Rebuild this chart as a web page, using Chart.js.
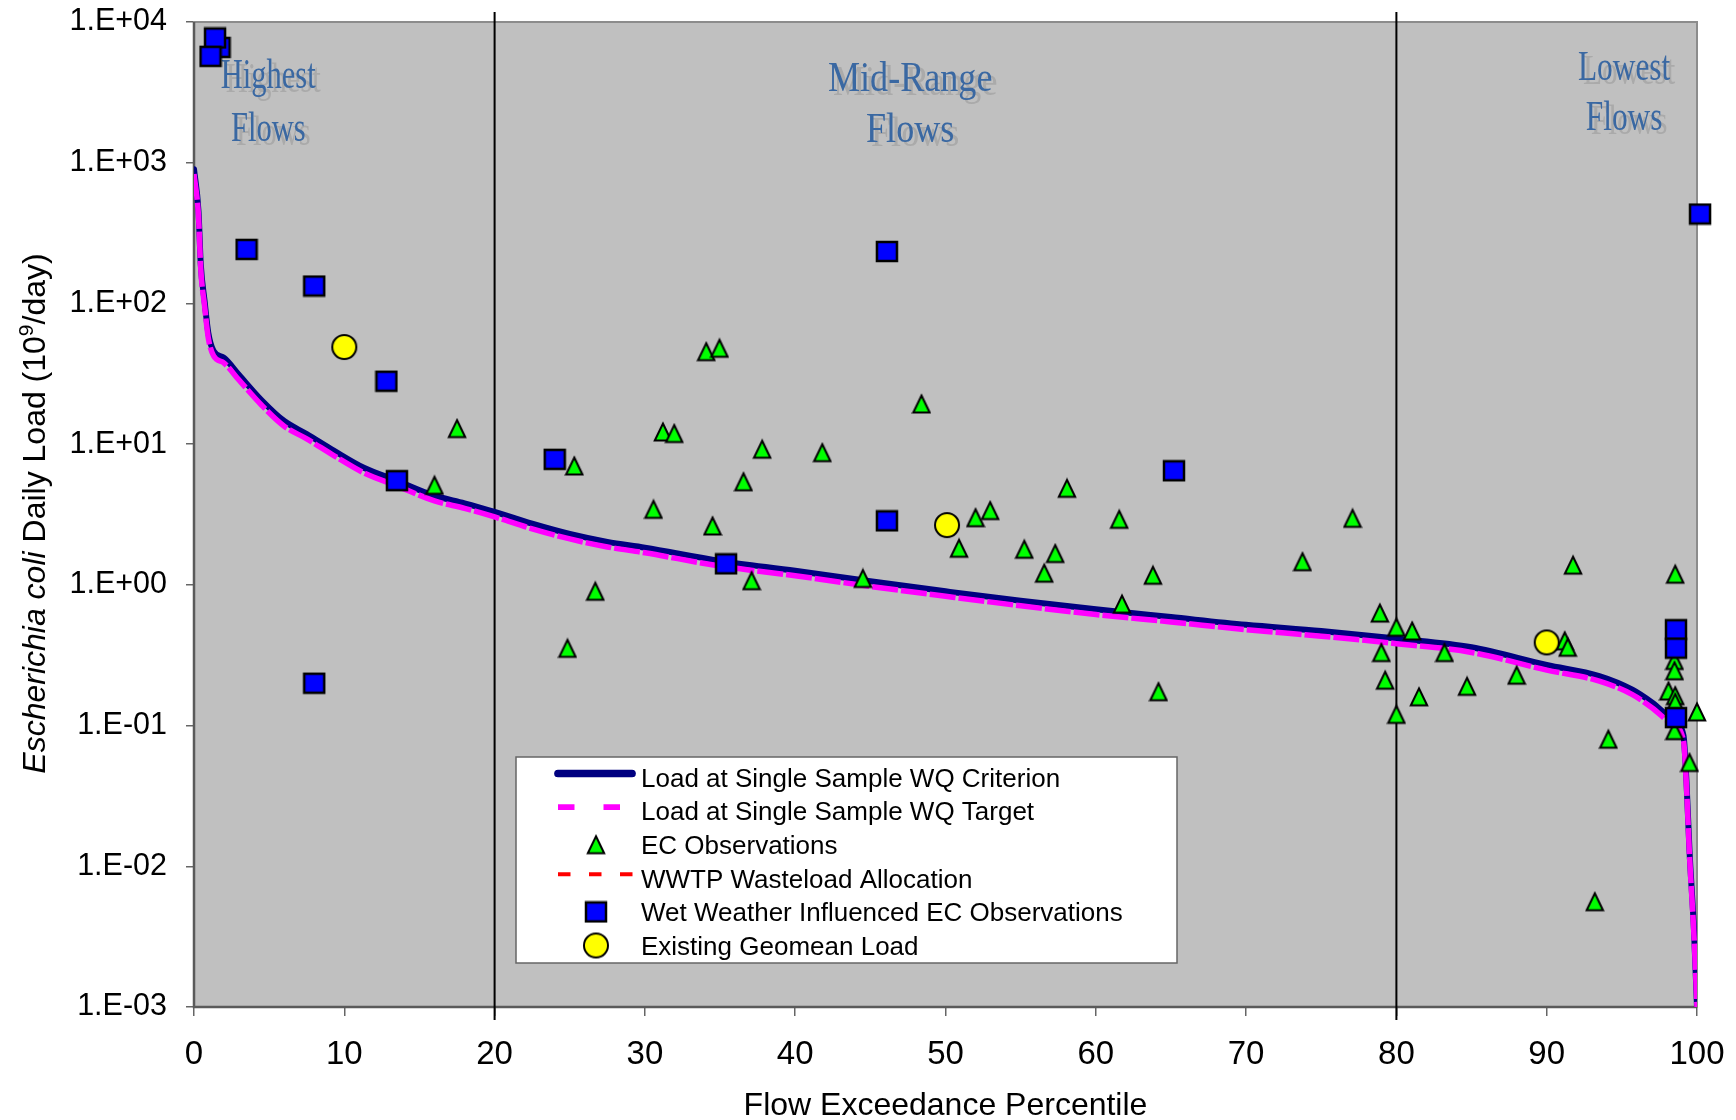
<!DOCTYPE html>
<html>
<head>
<meta charset="utf-8">
<title>Escherichia coli load duration curve</title>
<script src="https://cdn.jsdelivr.net/npm/chart.js@4.4.1/dist/chart.umd.min.js"></script>
<style>
    html, body { margin: 0; padding: 0; background: #fff; }
    #marco { width: 1736px; height: 1120px; position: relative; }
</style>
</head>
<body>
<div id="marco"><canvas id="graficoCarga"></canvas></div>
<script>
// Load duration curves (flow exceedance percentile -> load, 10^9/day)
const flowPct = [0, 0.3, 0.45, 0.7, 0.95, 1.3, 2, 3, 4.5, 6, 7.5, 9.3, 11.3, 13.5, 16, 18, 20, 22.5, 25, 27.5,
    30, 35, 40, 45, 50, 55, 60, 65, 70, 75, 80, 85, 90, 93.5, 95.7, 97, 98.4, 99.1, 99.3, 99.5, 99.8, 100];
const criterionLoad = [900, 450, 190, 105, 62, 46, 41, 31, 20.5, 14.6, 11.8, 9.0, 6.8, 5.5, 4.3, 3.8, 3.3, 2.72, 2.3, 2.02,
    1.84, 1.48, 1.26, 1.06, 0.90, 0.77, 0.67, 0.59, 0.52, 0.47, 0.415, 0.36, 0.27, 0.225, 0.18, 0.146, 0.11, 0.085, 0.04, 0.013, 0.0035, 0.001];
const targetLoad = [830, 415, 175, 97, 57, 42.5, 37.7, 28.5, 18.9, 13.4, 10.9, 8.3, 6.25, 5.05, 3.95, 3.5, 3.04, 2.5, 2.12, 1.86,
    1.69, 1.36, 1.16, 0.975, 0.83, 0.71, 0.615, 0.545, 0.48, 0.432, 0.382, 0.331, 0.248, 0.207, 0.166, 0.134, 0.101, 0.078, 0.037, 0.012, 0.0032, 0.001];
const wasteloadAllocation = [];

// Observations: [percentile, load]
const ecObservations = [
    [16.0, 5.1], [17.5, 12.9], [24.85, 0.354], [25.3, 7.0], [26.7, 0.90], [30.57, 3.44], [31.2, 12.2], [31.95, 11.9],
    [34.08, 45.4], [34.96, 48], [34.5, 2.62], [36.56, 5.4], [37.1, 1.07], [37.8, 9.2], [41.8, 8.7], [44.5, 1.11],
    [48.4, 19.3], [50.9, 1.82], [52.0, 3.0], [52.97, 3.37], [55.24, 1.79], [56.57, 1.21], [57.3, 1.67], [58.08, 4.85],
    [61.56, 2.92], [61.74, 0.73], [63.8, 1.17], [64.17, 0.174], [73.75, 1.46], [77.08, 2.97], [78.9, 0.63], [79.0, 0.33],
    [79.25, 0.21], [80.0, 0.50], [80.0, 0.12], [81.05, 0.47], [81.5, 0.16], [83.2, 0.33], [84.7, 0.19], [88.0, 0.228],
    [91.2, 0.40], [91.4, 0.36], [91.75, 1.38], [93.2, 0.0056], [94.1, 0.08], [98.55, 1.19], [98.5, 0.29], [98.5, 0.245],
    [98.1, 0.176], [98.55, 0.163], [98.55, 0.146], [98.5, 0.092], [99.5, 0.0546], [100.0, 0.125]
];
const wetWeatherObservations = [
    [1.7, 6600], [1.4, 7700], [1.1, 5700], [3.5, 242], [8.0, 133], [12.8, 28], [13.5, 5.5], [8.0, 0.20],
    [24.0, 7.8], [35.4, 1.41], [46.1, 234], [46.1, 2.85], [65.2, 6.47], [98.6, 0.48], [98.6, 0.355], [98.6, 0.114], [100.2, 432]
];
const geomeanLoad = [[10.0, 49], [50.1, 2.66], [90.0, 0.39]];

// Flow zones
const zoneBounds = [20, 80];
const zoneLabels = [['Highest', 'Flows'], ['Mid-Range', 'Flows'], ['Lowest', 'Flows']];

// Ticks
const xTickValues = [0, 10, 20, 30, 40, 50, 60, 70, 80, 90, 100];
const yTickValues = [0.001, 0.01, 0.1, 1, 10, 100, 1000, 10000];
const yTickLabels = ['1.E-03', '1.E-02', '1.E-01', '1.E+00', '1.E+01', '1.E+02', '1.E+03', '1.E+04'];

const FUENTE = '"Liberation Sans", Arial, sans-serif';

// 1. Marcadores
function marcador(w, h, dibujar) {
    const c = document.createElement('canvas');
    c.width = w; c.height = h;
    dibujar(c.getContext('2d'));
    return c;
}
const triangulo = marcador(20, 22, g => {
    g.beginPath(); g.moveTo(10, 2.5); g.lineTo(18.2, 19.5); g.lineTo(1.8, 19.5); g.closePath();
    g.fillStyle = '#00ff00'; g.fill();
    g.lineWidth = 2; g.strokeStyle = '#000'; g.stroke();
});
const cuadrado = marcador(24, 23, g => {
    g.fillStyle = '#0000ff'; g.fillRect(2, 2, 20, 19);
    g.lineWidth = 2.5; g.strokeStyle = '#000'; g.strokeRect(2, 2, 20, 19);
});
const circulo = marcador(28, 28, g => {
    g.beginPath(); g.arc(14, 14, 12, 0, Math.PI * 2);
    g.fillStyle = '#ffff00'; g.fill();
    g.lineWidth = 2; g.strokeStyle = '#000'; g.stroke();
});

const pares = arr => arr.map(p => ({ x: p[0], y: p[1] }));

// sin relleno extra de las escalas: el area del grafico queda fija
function sinRelleno(s) {
    s.paddingLeft = 0; s.paddingRight = 0; s.paddingTop = 0; s.paddingBottom = 0;
}

// 2. Decoracion: fondo, borde, zonas, leyenda, titulos
const decoracion = {
    id: 'decoracion',
    beforeDraw(chart) {
        const { ctx, chartArea: a } = chart;
        ctx.save();
        ctx.fillStyle = '#fff';
        ctx.fillRect(0, 0, chart.width, chart.height);
        ctx.fillStyle = '#c0c0c0';
        ctx.fillRect(a.left, a.top, a.right - a.left, a.bottom - a.top);
        ctx.restore();
    },
    beforeDatasetsDraw(chart) {
        const { ctx, chartArea: a } = chart;
        const sx = chart.scales.x;
        ctx.save();
        ctx.strokeStyle = '#8c8c8c';
        ctx.lineWidth = 2;
        ctx.strokeRect(a.left, a.top, a.right - a.left, a.bottom - a.top);
        ctx.strokeStyle = '#5a5a5a';
        ctx.lineWidth = 2.5;
        ctx.beginPath();
        ctx.moveTo(a.left, a.top); ctx.lineTo(a.left, a.bottom); ctx.lineTo(a.right, a.bottom);
        ctx.stroke();

        // flow zone labels
        const sitios = [
            { pct: 4.94, base: [88, 141], esc: 0.71 },
            { pct: 47.65, base: [91, 142], esc: 0.84 },
            { pct: 95.15, base: [80, 130], esc: 0.73 }
        ];
        ctx.font = '43px "Liberation Serif", "Times New Roman", serif';
        ctx.textAlign = 'center';
        ctx.textBaseline = 'alphabetic';
        zoneLabels.forEach((lineas, i) => {
            const s = sitios[i];
            const cx = sx.getPixelForValue(s.pct);
            lineas.forEach((txt, j) => {
                ctx.save();
                ctx.translate(cx, s.base[j]);
                ctx.scale(s.esc, 1);
                ctx.shadowColor = 'rgba(90,90,90,0.22)';
                ctx.shadowOffsetX = 5;
                ctx.shadowOffsetY = 4;
                ctx.fillStyle = '#3a68a2';
                ctx.fillText(txt, 0, 0);
                ctx.restore();
            });
        });
        ctx.restore();
    },
    afterDraw(chart) {
        const { ctx, chartArea: a } = chart;
        ctx.save();

        // leyenda
        ctx.fillStyle = '#fff';
        ctx.fillRect(516, 757, 661, 206);
        ctx.strokeStyle = '#666';
        ctx.lineWidth = 1.5;
        ctx.strokeRect(516, 757, 661, 206);
        let fila = 0;
        chart.data.datasets.forEach(ds => {
            if (!ds.label) return;
            const yc = 777.5 + 33.6 * fila;
            if (ds.showLine) {
                ctx.beginPath();
                ctx.strokeStyle = ds.borderColor;
                ctx.lineWidth = ds.legendWidth;
                ctx.setLineDash(ds.legendDash || []);
                ctx.lineCap = ds.legendDash ? 'butt' : 'round';
                ctx.moveTo(558, yc - 4);
                ctx.lineTo(ds.legendDash ? 636 : 632, yc - 4);
                ctx.stroke();
                ctx.setLineDash([]);
            } else {
                const m = ds.pointStyle;
                ctx.drawImage(m, 596 - m.width / 2, yc - m.height / 2);
            }
            ctx.fillStyle = '#000';
            ctx.font = '26px ' + FUENTE;
            ctx.textAlign = 'left';
            ctx.textBaseline = 'alphabetic';
            ctx.fillText(ds.label, 641, yc + 9.3);
            fila++;
        });

        // titulo eje x
        ctx.fillStyle = '#000';
        ctx.font = '32px ' + FUENTE;
        ctx.textAlign = 'center';
        ctx.fillText('Flow Exceedance Percentile', (a.left + a.right) / 2, 1115);

        // titulo eje y (cursiva + superindice)
        const partes = [
            { t: 'Escherichia coli', f: 'italic 32px ' + FUENTE, dy: 0 },
            { t: ' Daily Load (10', f: '32px ' + FUENTE, dy: 0 },
            { t: '9', f: '21px ' + FUENTE, dy: -12 },
            { t: '/day)', f: '32px ' + FUENTE, dy: 0 }
        ];
        let total = 0;
        partes.forEach(p => { ctx.font = p.f; p.w = ctx.measureText(p.t).width; total += p.w; });
        ctx.translate(45, 513.5);
        ctx.rotate(-Math.PI / 2);
        ctx.textAlign = 'left';
        let x = -total / 2;
        partes.forEach(p => { ctx.font = p.f; ctx.fillText(p.t, x, p.dy); x += p.w; });
        ctx.restore();
    }
};

// 3. Datasets
const datasets = [
    {
        label: 'Load at Single Sample WQ Criterion',
        data: flowPct.map((x, i) => ({ x, y: criterionLoad[i] })),
        showLine: true, borderColor: '#000080', borderWidth: 6,
        borderCapStyle: 'round', borderJoinStyle: 'round',
        cubicInterpolationMode: 'monotone', pointRadius: 0,
        legendWidth: 7.7, order: 5
    },
    {
        label: 'Load at Single Sample WQ Target',
        data: flowPct.map((x, i) => ({ x, y: targetLoad[i] })),
        showLine: true, borderColor: '#ff00ff', borderWidth: 5.5, borderDash: [26, 3],
        cubicInterpolationMode: 'monotone', pointRadius: 0,
        legendWidth: 5.7, legendDash: [16.5, 29], order: 4
    },
    {
        label: 'EC Observations',
        data: pares(ecObservations),
        pointStyle: triangulo, pointRadius: 10, pointHoverRadius: 10, clip: false, order: 3
    },
    {
        label: 'WWTP Wasteload Allocation',
        data: wasteloadAllocation,
        showLine: true, borderColor: '#ff0000', borderWidth: 4, borderDash: [12.5, 18.5], pointRadius: 0,
        legendWidth: 4, legendDash: [12.5, 18.5], order: 4
    },
    {
        label: 'Wet Weather Influenced EC Observations',
        data: pares(wetWeatherObservations),
        pointStyle: cuadrado, pointRadius: 11, pointHoverRadius: 11, clip: false, order: 2
    },
    {
        label: 'Existing Geomean Load',
        data: pares(geomeanLoad),
        pointStyle: circulo, pointRadius: 13, pointHoverRadius: 13, clip: false, order: 1
    }
];
zoneBounds.forEach(b => {
    datasets.push({
        data: [{ x: b, y: 11800 }, { x: b, y: 0.00081 }],
        showLine: true, borderColor: '#000', borderWidth: 2, pointRadius: 0, clip: false, order: 10
    });
});

// 4. Grafico
new Chart(document.getElementById('graficoCarga'), {
    type: 'scatter',
    data: { datasets },
    options: {
        responsive: true,
        maintainAspectRatio: false,
        devicePixelRatio: 1,
        animation: false,
        events: [],
        layout: { padding: { top: 22, right: 39, left: 0, bottom: 0 } },
        plugins: { legend: { display: false }, tooltip: { enabled: false } },
        scales: {
            x: {
                type: 'linear', min: 0, max: 100,
                afterBuildTicks: s => { s.ticks = xTickValues.map(v => ({ value: v })); },
                afterFit: s => { s.height = 113; sinRelleno(s); },
                ticks: {
                    autoSkip: false, maxRotation: 0, padding: 22, color: '#000',
                    font: { family: FUENTE, size: 33, lineHeight: 1 },
                    callback: v => String(v)
                },
                grid: { drawOnChartArea: false, drawTicks: true, tickLength: 9, color: '#666', lineWidth: 1.5 },
                border: { display: false }
            },
            y: {
                type: 'logarithmic', min: 0.001, max: 10000,
                afterBuildTicks: s => { s.ticks = yTickValues.map(v => ({ value: v })); },
                afterFit: s => { s.width = 194; sinRelleno(s); },
                ticks: {
                    autoSkip: false, padding: 19, color: '#000',
                    font: { family: FUENTE, size: 30.5, lineHeight: 1 },
                    callback: v => yTickLabels[yTickValues.indexOf(v)]
                },
                grid: { drawOnChartArea: false, drawTicks: true, tickLength: 8, color: '#666', lineWidth: 1.5 },
                border: { display: false }
            }
        }
    },
    plugins: [decoracion]
});
</script>
</body>
</html>
